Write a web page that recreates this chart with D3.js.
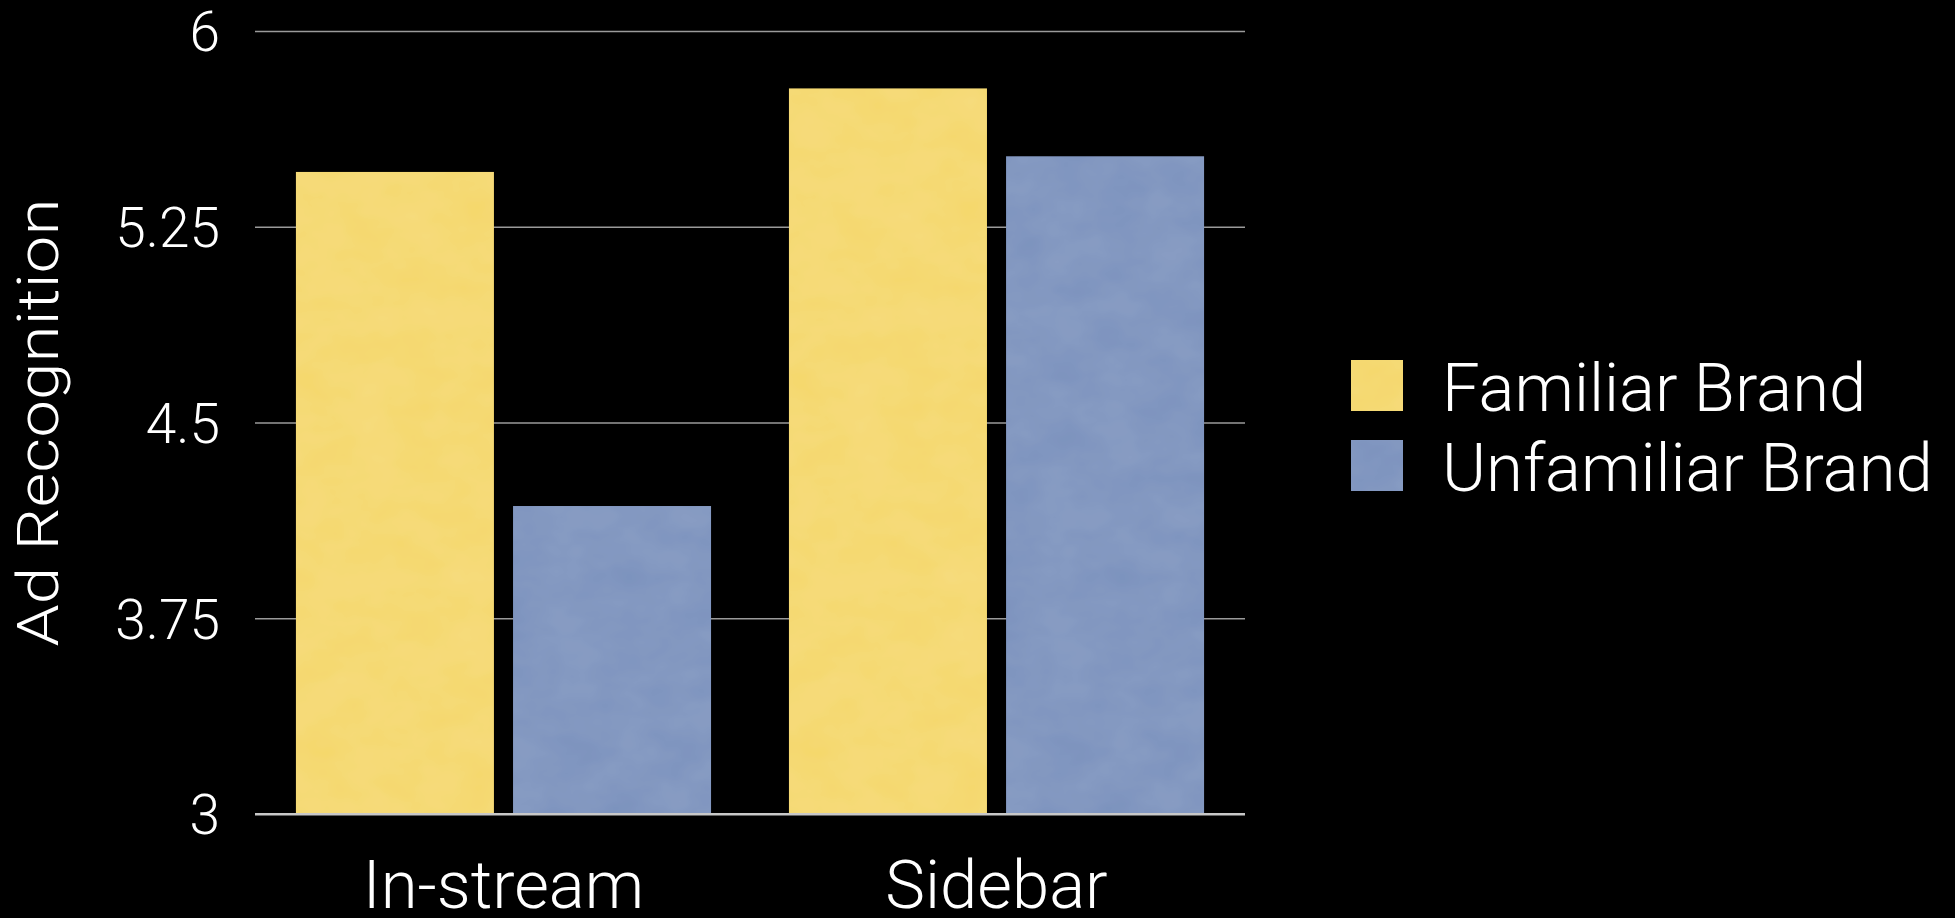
<!DOCTYPE html>
<html>
<head>
<meta charset="utf-8">
<script src="https://cdn.jsdelivr.net/npm/d3@7"></script>
<style>
  html, body { margin: 0; padding: 0; background: #000; }
  svg { display: block; }
  text { font-family: Roboto, "Helvetica Neue", "Liberation Sans", sans-serif; font-weight: 300; fill: #fff; }
</style>
</head>
<body>
<svg id="chart" width="1955" height="918"></svg>
<script>
// Placements and brand conditions
const categories = ["In-stream", "Sidebar"];
const seriesNames = ["Familiar Brand", "Unfamiliar Brand"];
const familiarValues = [5.46, 5.78];
const unfamiliarValues = [4.18, 5.52];
const yTicks = [3, 3.75, 4.5, 5.25, 6];
const yTickLabels = ["3", "3.75", "4.5", "5.25", "6"];
const yTitle = "Ad Recognition";

const colors = ["#F5D86A", "#7A92BE"];

const svg = d3.select("#chart");
const margin = { left: 255, right: 710, top: 31, bottom: 104 };
const W = 1955, H = 918;

const x0 = d3.scaleBand()
  .domain(categories)
  .range([margin.left, W - margin.right])
  .paddingInner(0.158)
  .paddingOuter(0.083);

const x1 = d3.scaleBand()
  .domain(seriesNames)
  .range([0, x0.bandwidth()])
  .paddingInner(0.088);

const y = d3.scaleLinear()
  .domain([3, 6])
  .range([H - margin.bottom, margin.top]);

// subtle paper-like texture on the bars
const defs = svg.append("defs");
const filt = defs.append("filter").attr("id", "paper")
  .attr("x", 0).attr("y", 0).attr("width", 1).attr("height", 1);
filt.append("feTurbulence").attr("type", "fractalNoise")
  .attr("baseFrequency", "0.02 0.03").attr("numOctaves", 3).attr("seed", 4).attr("result", "noise");
filt.append("feColorMatrix").attr("in", "noise").attr("type", "matrix")
  .attr("values", "0 0 0 0 1  0 0 0 0 1  0 0 0 0 1  0 0 0 0.08 0").attr("result", "light");
filt.append("feComposite").attr("in", "light").attr("in2", "SourceGraphic").attr("operator", "in").attr("result", "lightIn");
filt.append("feMerge").selectAll("feMergeNode")
  .data(["SourceGraphic", "lightIn"]).join("feMergeNode").attr("in", d => d);

// gridlines and value labels
const yAxis = d3.axisLeft(y)
  .tickValues(yTicks)
  .tickSize(-(W - margin.left - margin.right))
  .tickFormat((d, i) => yTickLabels[i]);

const gy = svg.append("g")
  .attr("transform", `translate(${margin.left},0)`)
  .call(yAxis);
gy.select(".domain").remove();
gy.selectAll(".tick line")
  .attr("stroke", d => d === 3 ? "#c8c8c8" : "#9a9a9a")
  .attr("stroke-width", d => d === 3 ? 2 : 1.5);
gy.selectAll(".tick text")
  .attr("x", -35)
  .attr("dy", "0.36em")
  .style("font-size", "55px")
  .style("font-family", "Roboto, sans-serif")
  .style("font-weight", 300)
  .attr("fill", "#fff");

// bars
const rows = categories.map((c, i) => ({
  category: c,
  values: [familiarValues[i], unfamiliarValues[i]]
}));

svg.append("g").selectAll("g")
  .data(rows)
  .join("g")
  .attr("transform", d => `translate(${x0(d.category)},0)`)
  .selectAll("rect")
  .data(d => d.values.map((v, j) => ({ key: seriesNames[j], value: v, j })))
  .join("rect")
  .attr("x", d => x1(d.key))
  .attr("width", x1.bandwidth())
  .attr("y", d => y(d.value))
  .attr("height", d => y(3) - y(d.value))
  .attr("fill", d => colors[d.j])
  .attr("filter", "url(#paper)");

// baseline drawn over the bars
svg.append("line")
  .attr("x1", margin.left).attr("x2", W - margin.right)
  .attr("y1", y(3)).attr("y2", y(3))
  .attr("stroke", "#c8c8c8").attr("stroke-width", 2);

// category labels
const xAxis = d3.axisBottom(x0).tickSize(0);
const gx = svg.append("g")
  .attr("transform", `translate(0,${y(3)})`)
  .call(xAxis);
gx.select(".domain").remove();
gx.selectAll(".tick text")
  .attr("y", 94)
  .attr("dy", 0)
  .style("font-size", "67px")
  .style("font-family", "Roboto, sans-serif")
  .style("font-weight", 300)
  .attr("fill", "#fff");

// y-axis title
svg.append("text")
  .attr("transform", `translate(58,${(y(3) + y(6)) / 2}) rotate(-90)`)
  .attr("text-anchor", "middle")
  .attr("textLength", 448)
  .attr("lengthAdjust", "spacingAndGlyphs")
  .style("font-size", "58px")
  .text(yTitle);

// legend
const legend = svg.append("g").attr("transform", "translate(1351,360)");
const items = legend.selectAll("g")
  .data(seriesNames)
  .join("g")
  .attr("transform", (d, i) => `translate(0,${i * 80})`);
items.append("rect")
  .attr("width", 52).attr("height", 51)
  .attr("fill", (d, i) => colors[i])
  .attr("filter", "url(#paper)");
items.append("text")
  .attr("x", 91)
  .attr("y", 51)
  .style("font-size", "67px")
  .text(d => d);
</script>
</body>
</html>
